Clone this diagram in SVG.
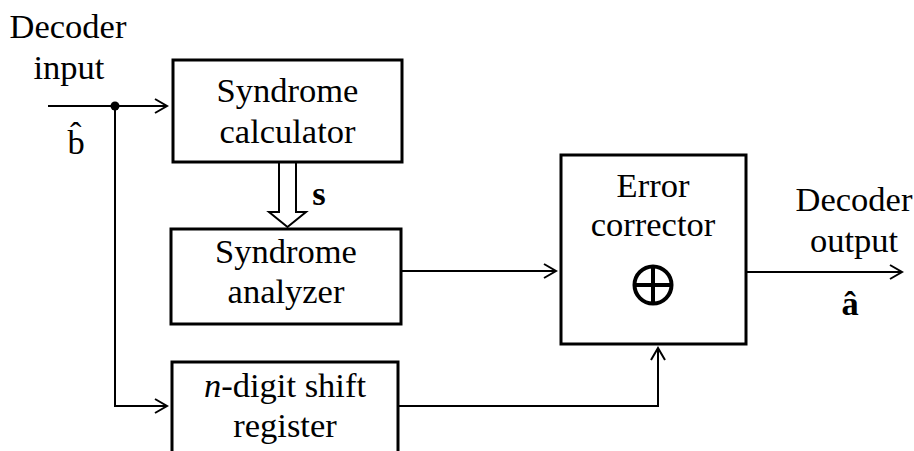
<svg xmlns="http://www.w3.org/2000/svg" width="914" height="451" viewBox="0 0 914 451">
<style>
.box{fill:#fff;stroke:#000;stroke-width:3}
.ln{fill:none;stroke:#000;stroke-width:2}
.t{font-family:"Liberation Serif","Times New Roman",serif;font-size:34.5px;fill:#000;text-anchor:middle}
.b{font-weight:bold}
</style>
<defs>
<marker id="arr" markerWidth="16" markerHeight="16" refX="13" refY="8" orient="auto" markerUnits="userSpaceOnUse">
<path d="M1,1 L13,8 L1,15" fill="none" stroke="#000" stroke-width="2"/>
</marker>
</defs>
<rect width="914" height="451" fill="#fff"/>
<g id="connectors">
<line class="ln" x1="48" y1="106" x2="167" y2="106" marker-end="url(#arr)"/>
<circle cx="115" cy="106" r="4.5" fill="#000"/>
<polyline class="ln" points="115,106 115,406 167,406" marker-end="url(#arr)"/>
<polygon points="279,162 279,212 269,212 287.5,227 306,212 296,212 296,162" fill="#fff" stroke="#000" stroke-width="2"/>
<line class="ln" x1="401" y1="271" x2="556" y2="271" marker-end="url(#arr)"/>
<polyline class="ln" points="398,406 658,406 658,348" marker-end="url(#arr)"/>
<line class="ln" x1="746" y1="272" x2="902" y2="272" marker-end="url(#arr)"/>
</g>
<g id="labels">
<text class="t" x="68" y="38">Decoder</text>
<text class="t" x="69" y="79">input</text>
<text class="t" x="76" y="154">b̂</text>
<text class="t b" x="319" y="205">s</text>
<text class="t" x="854" y="211">Decoder</text>
<text class="t" x="854" y="252">output</text>
<text class="t b" x="850" y="315">â</text>
</g>
<g id="syndrome-calculator">
<rect class="box" x="173" y="60" width="229" height="102"/>
<text class="t" x="287.5" y="102">Syndrome</text>
<text class="t" x="287.5" y="143">calculator</text>
</g>
<g id="syndrome-analyzer">
<rect class="box" x="171" y="229" width="230" height="95"/>
<text class="t" x="286" y="263">Syndrome</text>
<text class="t" x="286" y="303">analyzer</text>
</g>
<g id="shift-register">
<rect class="box" x="172" y="362" width="226" height="100"/>
<text class="t" x="285" y="397"><tspan font-style="italic">n</tspan>-digit shift</text>
<text class="t" x="285" y="437">register</text>
</g>
<g id="error-corrector">
<rect class="box" x="561" y="155" width="185" height="189"/>
<text class="t" x="653" y="197">Error</text>
<text class="t" x="653" y="236">corrector</text>
<circle cx="653" cy="285" r="18.5" fill="none" stroke="#000" stroke-width="4"/>
<line x1="634.5" y1="285" x2="671.5" y2="285" stroke="#000" stroke-width="4"/>
<line x1="653" y1="266.5" x2="653" y2="303.5" stroke="#000" stroke-width="4"/>
</g>
</svg>
